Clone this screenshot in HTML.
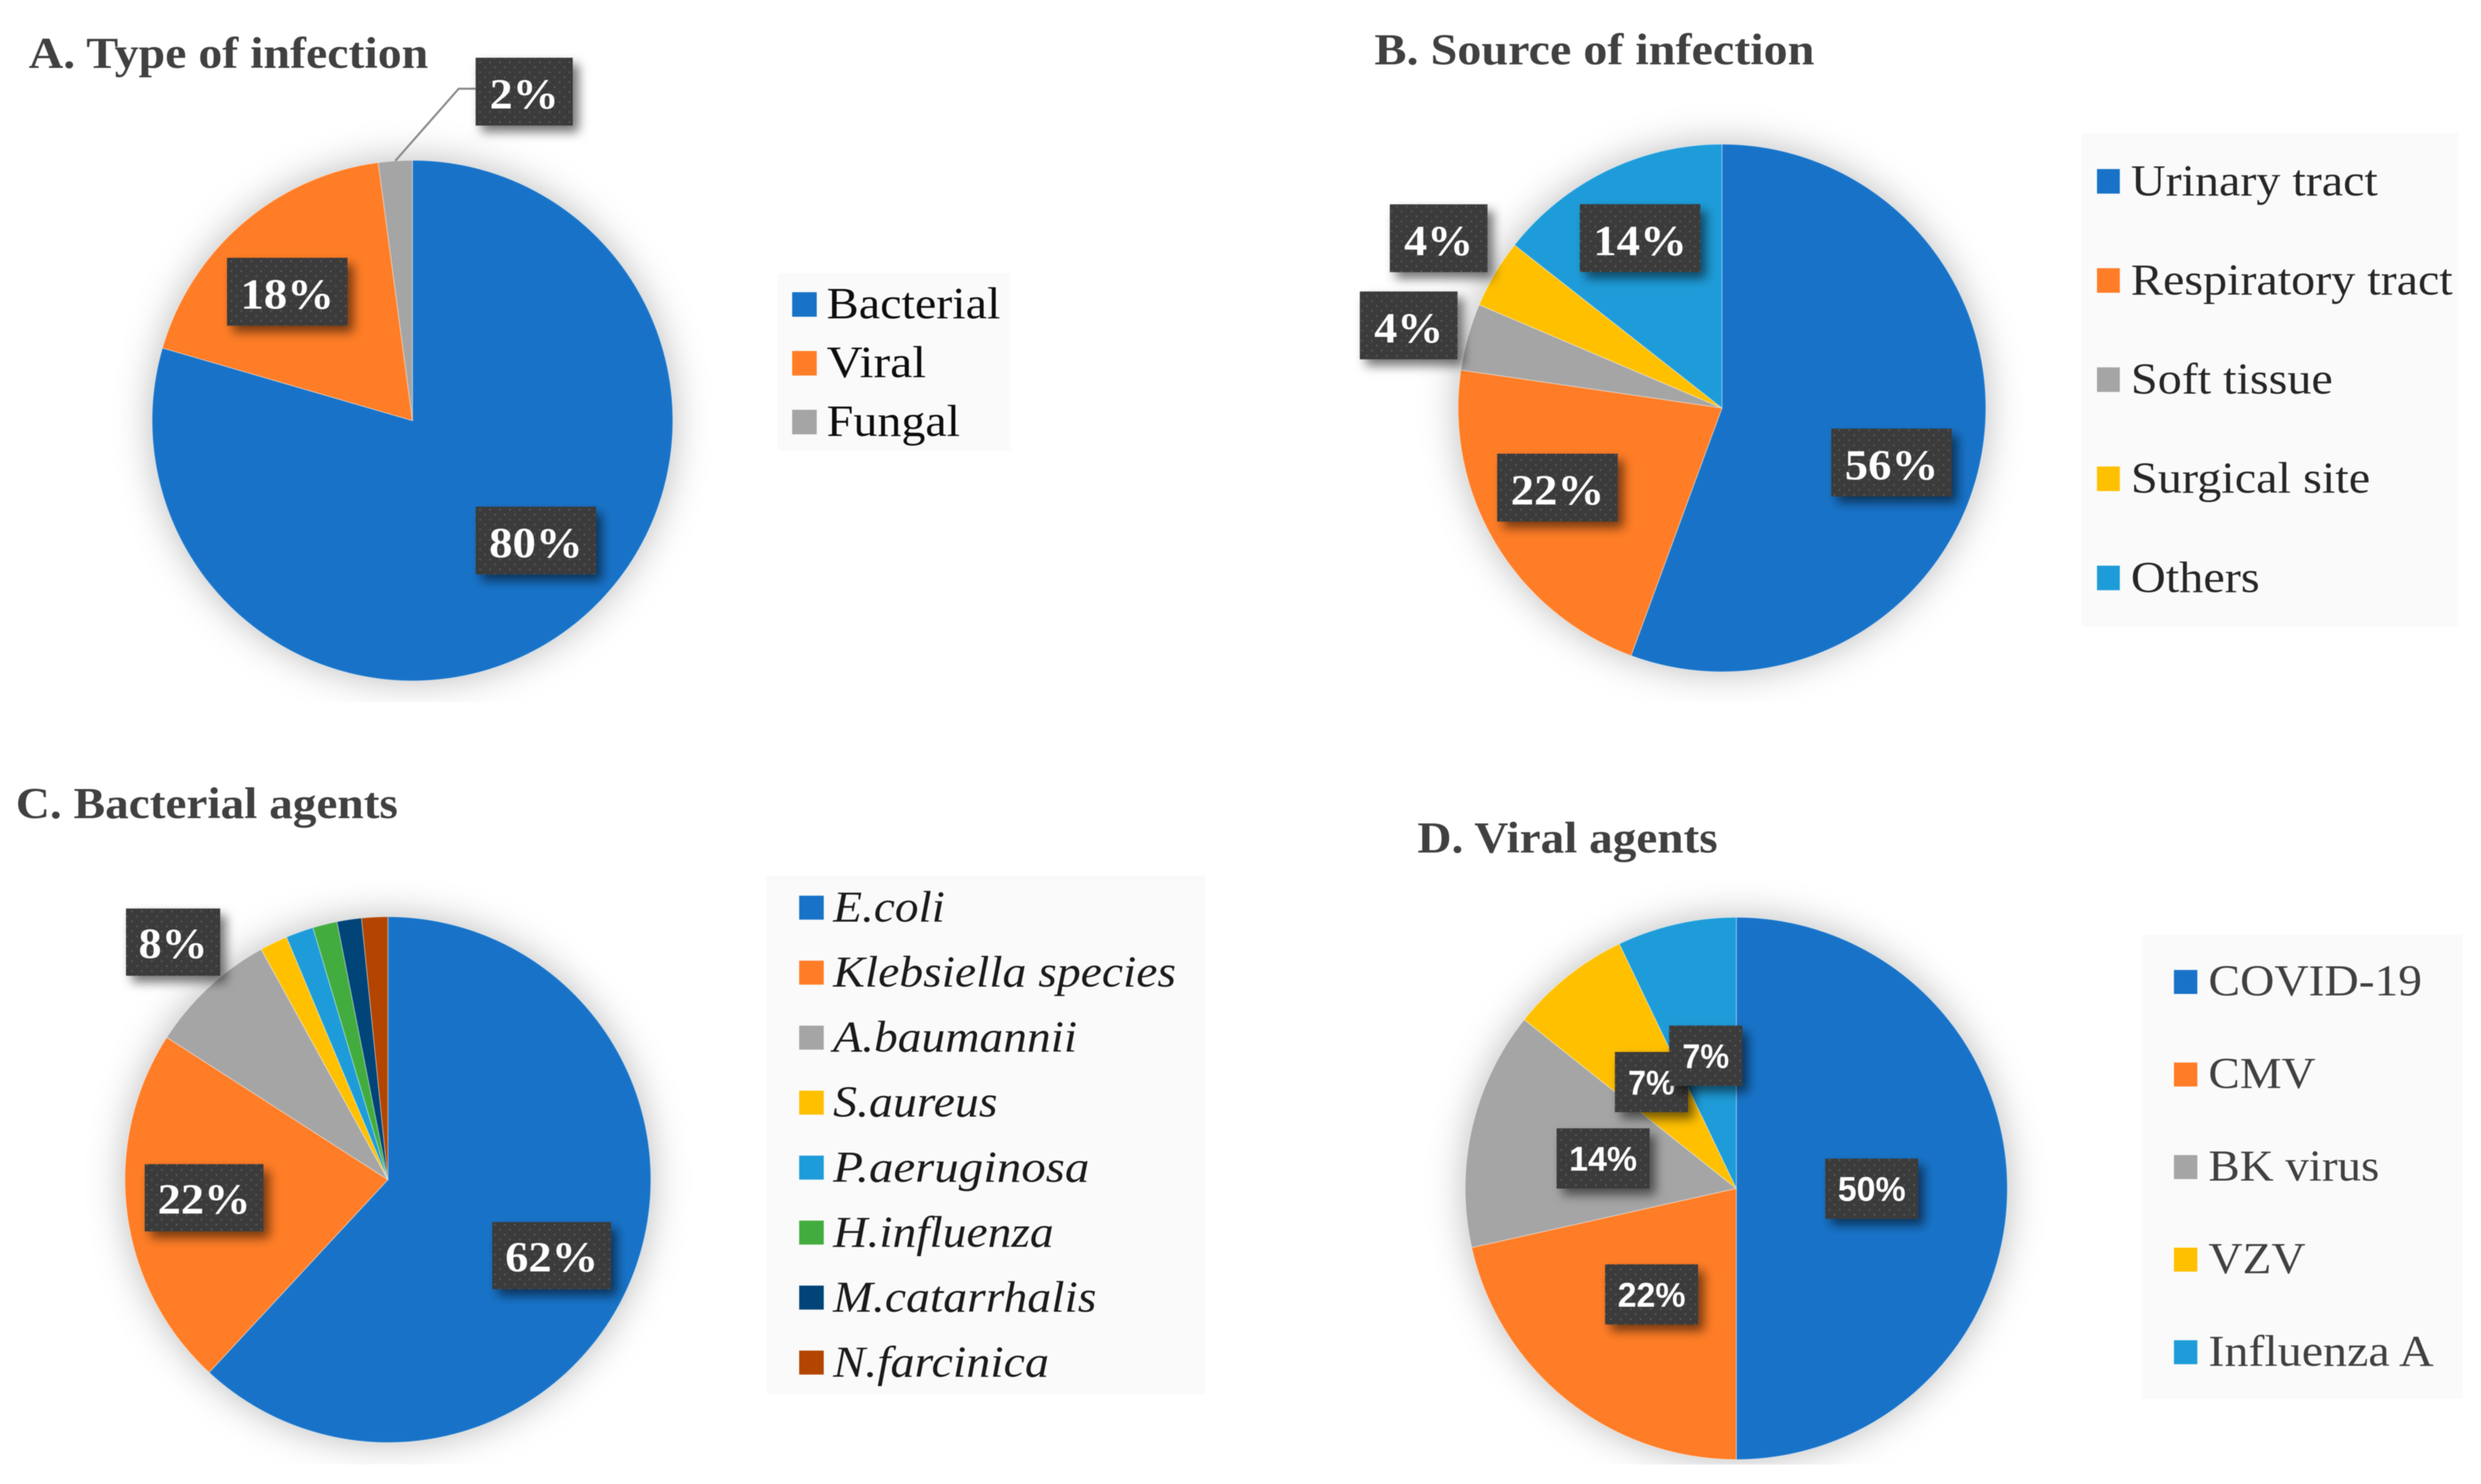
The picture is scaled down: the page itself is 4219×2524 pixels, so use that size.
<!DOCTYPE html>
<html lang="en">
<head>
<meta charset="utf-8">
<title>Infection type, source and agents: four pie charts</title>
<style>
html,body{margin:0;padding:0;background:#fff;}
svg{display:block;filter:blur(0.8px);}
.title{font-family:"Liberation Serif",serif;font-weight:bold;font-size:76px;fill:#404040;}
</style>
</head>
<body>
<svg id="figure" xmlns="http://www.w3.org/2000/svg" width="4219" height="2524" viewBox="0 0 4219 2524">
  <defs>
    <filter id="pieBlur" x="-30%" y="-30%" width="160%" height="160%"><feGaussianBlur stdDeviation="32"/></filter>
    <filter id="boxShadow" x="-30%" y="-30%" width="170%" height="170%"><feDropShadow dx="10" dy="11" stdDeviation="9" flood-color="#000" flood-opacity="0.55"/></filter>
    <pattern id="dots" width="17" height="17" patternUnits="userSpaceOnUse">
      <rect width="17" height="17" fill="#3b3b3b"/>
      <rect x="3" y="3" width="3" height="3" fill="#575757"/>
      <rect x="11.5" y="11.5" width="3" height="3" fill="#575757"/>
    </pattern>
    <clipPath id="clipTop"><rect x="0" y="0" width="4219" height="1200"/></clipPath>
    <clipPath id="clipBottom"><rect x="0" y="1210" width="4219" height="1287"/></clipPath>
  </defs>
  <rect x="0" y="0" width="4219" height="2524" fill="#ffffff"/>
  <text class="title" transform="scale(0.9949)" x="49" y="116" textLength="683" lengthAdjust="spacingAndGlyphs">A. Type of infection</text>
  <text class="title" transform="translate(2200 0) scale(0.9949) translate(-2200 0)" x="2338" y="110" textLength="752" lengthAdjust="spacingAndGlyphs">B. Source of infection</text>
  <text class="title" transform="translate(0 1300) scale(0.9949) translate(0 -1300)" x="27" y="1392" textLength="653" lengthAdjust="spacingAndGlyphs">C. Bacterial agents</text>
  <text class="title" transform="translate(2300 1300) scale(0.9949) translate(-2300 -1300)" x="2411" y="1451" textLength="513" lengthAdjust="spacingAndGlyphs">D. Viral agents</text>
</svg>
<script>
// ---- Chart data ----
const categoriesA = ['Bacterial', 'Viral', 'Fungal'];
const valuesA = [79.5, 18.4, 2.1];
const printedA = ['80%', '18%', '2%'];

const categoriesB = ['Urinary tract', 'Respiratory tract', 'Soft tissue', 'Surgical site', 'Others'];
const valuesB = [55.6, 21.7, 4.1, 4.2, 14.4];
const printedB = ['56%', '22%', '4%', '4%', '14%'];

const categoriesC = ['E.coli', 'Klebsiella species', 'A.baumannii', 'S.aureus', 'P.aeruginosa', 'H.influenza', 'M.catarrhalis', 'N.farcinica'];
const valuesC = [61.9, 22.2, 7.9, 1.7, 1.7, 1.5, 1.5, 1.6];
const printedC = ['62%', '22%', '8%', '', '', '', '', ''];

const categoriesD = ['COVID-19', 'CMV', 'BK virus', 'VZV', 'Influenza A'];
const valuesD = [50, 21.5, 14.2, 7.2, 7.1];
const printedD = ['50%', '22%', '14%', '7%', '7%'];

// ---- Styling and layout (not data) ----
const palette = ['#1873C8', '#FF7D26', '#A5A5A5', '#FFC000', '#1E9CD9', '#43AC3F', '#004478', '#B34500'];
const SVGNS = 'http://www.w3.org/2000/svg';
const root = document.getElementById('figure');
const layoutScale = 0.9949;

const panels = [
  { key: 'type', categories: categoriesA, values: valuesA, printed: printedA, ox: 0, oy: 0,
    cx: 705, cy: 719, r: 445, clip: 'clipTop',
    labelFont: '"Liberation Serif",serif', labelSize: 73, wideBox: 206, narrowBox: 166, boxH: 116,
    wideText: 160, narrowText: 118, baseShift: 29,
    nudgeX: [24, -11, 211.5], nudgeY: [-44, 16, -251.5], leader: [false, false, true],
    legend: { x: 1329, y: 467, w: 398, h: 304, swatchX: 1354, swatchW: 42, swatchH: 42, textX: 1413, first: 544.5, step: 100.5, size: 77, fill: '#0d0d0d', style: 'normal', swatchShift: -24,
      widths: [297, 170, 228] } },
  { key: 'source', categories: categoriesB, values: valuesB, printed: printedB, ox: 2200, oy: 0,
    cx: 2932, cy: 697.5, r: 451, clip: 'clipTop',
    labelFont: '"Liberation Serif",serif', labelSize: 73, wideBox: 206, narrowBox: 167, boxH: 116,
    wideText: 160, narrowText: 118, baseShift: 29,
    nudgeX: [-21, -10, -231.5, -212.5, -2], nudgeY: [38, -25.5, -56, -129.5, -6.5], leader: [false, false, false, false, false],
    legend: { x: 3547, y: 227, w: 643, h: 844, swatchX: 3573, swatchW: 39, swatchH: 42, textX: 3631, first: 334, step: 169.5, size: 76, fill: '#262626', style: 'normal', swatchShift: -24,
      widths: [422, 550, 345, 409, 220] } },
  { key: 'bacterial', categories: categoriesC, values: valuesC, printed: printedC, ox: 0, oy: 1300,
    cx: 663, cy: 2010, r: 449.5, clip: 'clipBottom',
    labelFont: '"Liberation Serif",serif', labelSize: 73, wideBox: 203, narrowBox: 161, boxH: 115,
    wideText: 159, narrowText: 118, baseShift: 27,
    nudgeX: [-13, -2, -152.5, 0, 0, 0, 0, 0], nudgeY: [15, -8.5, -176, 0, 0, 0, 0, 0], leader: [false, false, false, false, false, false, false, false],
    legend: { x: 1310, y: 1490, w: 749, h: 886, swatchX: 1366, swatchW: 42, swatchH: 41, textX: 1424, first: 1569, step: 111.1, size: 76, fill: '#1a1a1a', style: 'italic', swatchShift: -24,
      widths: [191, 586, 417, 281, 438, 377, 450, 369] } },
  { key: 'viral', categories: categoriesD, values: valuesD, printed: printedD, ox: 2300, oy: 1300,
    cx: 2956, cy: 2025, r: 463.5, clip: 'clipBottom',
    labelFont: '"Liberation Sans",sans-serif', labelSize: 59, wideBox: 159, narrowBox: 125, boxH: 103,
    wideText: 116, narrowText: 80, baseShift: 21,
    nudgeX: [-93, 58, 88.5, 57, 19.5], nudgeY: [0.5, -72, 21.5, 72, 89.5], leader: [false, false, false, false, false],
    legend: { x: 3649, y: 1592, w: 548, h: 792, swatchX: 3704, swatchW: 40, swatchH: 41, textX: 3763, first: 1695, step: 158.25, size: 76, fill: '#404040', style: 'normal', swatchShift: -23,
      widths: [365, 183, 292, 166, 385] } }
];

// ---- Helpers ----
function make(tag, attrs, parent) {
  const el = document.createElementNS(SVGNS, tag);
  Object.keys(attrs).forEach(function (k) { el.setAttribute(k, attrs[k]); });
  parent.appendChild(el);
  return el;
}
function total(values) { return values.reduce(function (s, v) { return s + v; }, 0); }
// Angular axis: cumulative value -> radians clockwise from 12 o'clock
function angleScale(values) {
  const sum = total(values);
  return function (v) { return v / sum * 2 * Math.PI; };
}
function polar(p, radius, angle) {
  return [p.cx + radius * Math.sin(angle), p.cy - radius * Math.cos(angle)];
}
function slicePath(p, a0, a1) {
  const s = polar(p, p.r, a0), e = polar(p, p.r, a1);
  const large = (a1 - a0) > Math.PI ? 1 : 0;
  return 'M' + p.cx + ' ' + p.cy + 'L' + s[0] + ' ' + s[1] + 'A' + p.r + ' ' + p.r + ' 0 ' + large + ' 1 ' + e[0] + ' ' + e[1] + 'Z';
}
function panelTransform(p) {
  return 'translate(' + p.ox + ' ' + p.oy + ') scale(' + layoutScale + ') translate(' + (-p.ox) + ' ' + (-p.oy) + ')';
}

// ---- Rendering ----
panels.forEach(function (p) {
  const g = make('g', { transform: panelTransform(p) }, root);
  
  

  const clipG = make('g', { 'clip-path': 'url(#' + p.clip + ')' }, g);
  const shadow = make('circle', { cx: p.cx, cy: p.cy, r: p.r, fill: '#000', 'fill-opacity': 0.27, filter: 'url(#pieBlur)' }, clipG);
  
  

  const toAngle = angleScale(p.values);
  let cum = 0;
  const mids = [];
  p.values.forEach(function (v, i) {
    const a0 = toAngle(cum), a1 = toAngle(cum + v);
    cum += v;
    mids.push((a0 + a1) / 2);
    const path = make('path', { d: slicePath(p, a0, a1), fill: palette[i], stroke: '#ffffff', 'stroke-opacity': 0.4, 'stroke-width': 1.5 }, g);
    
    
  });

  p.printed.forEach(function (label, i) {
    if (!label) return;
    const narrow = label.length < 3;
    const w = narrow ? p.narrowBox : p.wideBox;
    const base = polar(p, p.r * 0.7, mids[i]);
    const cx = base[0] + p.nudgeX[i], cy = base[1] + p.nudgeY[i];
    if (p.leader[i]) {
      const start = polar(p, p.r, mids[i]);
      const left = cx - w / 2;
      const line = make('polyline', { points: start[0] + ',' + start[1] + ' ' + (left - 29) + ',' + (cy - 5) + ' ' + left + ',' + (cy - 5), fill: 'none', stroke: '#8a8a8a', 'stroke-width': 3.5 }, g);
      
      
    }
    const box = make('rect', { x: cx - w / 2, y: cy - p.boxH / 2, width: w, height: p.boxH, fill: 'url(#dots)', filter: 'url(#boxShadow)' }, g);
    
    
    const txt = make('text', { x: cx, y: cy + p.baseShift, 'text-anchor': 'middle', fill: '#ffffff', 'font-family': p.labelFont, 'font-weight': 'bold', 'font-size': p.labelSize, textLength: narrow ? p.narrowText : p.wideText, lengthAdjust: 'spacingAndGlyphs' }, g);
    
    
    txt.textContent = label;
  });

  const L = p.legend;
  const lg = make('g', { transform: panelTransform(p) }, root);
  
  
  const bg = make('rect', { x: L.x, y: L.y, width: L.w, height: L.h, fill: '#fafafa' }, lg);
  
  
  p.categories.forEach(function (name, i) {
    const baseline = L.first + L.step * i;
    const sw = make('rect', { x: L.swatchX, y: baseline + L.swatchShift - L.swatchH / 2, width: L.swatchW, height: L.swatchH, fill: palette[i] }, lg);
    
    
    const t = make('text', { x: L.textX, y: baseline, fill: L.fill, 'font-family': '"Liberation Serif",serif', 'font-style': L.style, 'font-size': L.size, textLength: L.widths[i], lengthAdjust: 'spacingAndGlyphs' }, lg);
    
    
    t.textContent = name;
  });
});
</script>
</body>
</html>
